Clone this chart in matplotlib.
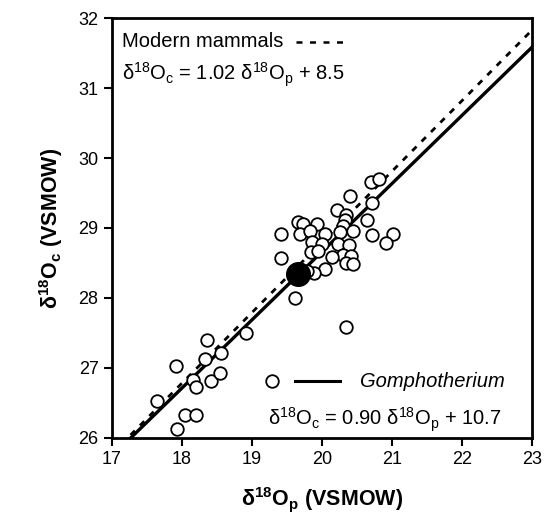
import matplotlib
matplotlib.use("Agg")
import matplotlib.pyplot as plt
from matplotlib.lines import Line2D

plt.rcParams['font.family'] = ['Liberation Sans', 'DejaVu Sans']
plt.rcParams['mathtext.fontset'] = 'custom'
plt.rcParams['mathtext.rm'] = 'Liberation Sans'
plt.rcParams['mathtext.it'] = 'Liberation Sans:italic'
plt.rcParams['mathtext.bf'] = 'Liberation Sans:bold'
plt.rcParams['mathtext.default'] = 'regular'

# Gomphotherium samples (delta18O phosphate, delta18O carbonate)
d18o_p = [17.65, 17.92, 17.93, 18.05, 18.20, 18.16, 18.20, 18.33, 18.36, 18.41,
          18.54, 18.56, 18.91,
          19.42, 19.42, 19.61, 20.34,
          20.70, 20.81, 20.40, 20.72, 20.21, 20.35, 20.33, 20.30, 20.64,
          19.66, 19.73, 19.93, 19.69, 19.83, 20.04, 20.26, 20.44, 20.71, 21.01, 20.91,
          19.86, 20.00, 20.23, 20.38,
          19.85, 19.95, 20.30, 20.42, 20.14,
          20.35, 20.45, 20.04, 19.88, 19.78]
d18o_c = [26.52, 27.02, 26.13, 26.32, 26.32, 26.83, 26.72, 27.12, 27.40, 26.81,
          26.92, 27.21, 27.50,
          28.92, 28.57, 28.00, 27.59,
          29.66, 29.70, 29.46, 29.36, 29.25, 29.19, 29.12, 29.03, 29.11,
          29.08, 29.05, 29.05, 28.92, 28.96, 28.92, 28.94, 28.96, 28.90, 28.92, 28.78,
          28.80, 28.77, 28.77, 28.75,
          28.65, 28.67, 28.61, 28.60, 28.58,
          28.50, 28.48, 28.41, 28.36, 28.39]
mean_p = [19.66]
mean_c = [28.34]

# regression lines as drawn (slope, intercept)
modern_line = (1.01, 8.6)
gompho_line = (0.975, 9.16)

x_ticks = [17, 18, 19, 20, 21, 22, 23]
y_ticks = [26, 27, 28, 29, 30, 31, 32]

fig = plt.figure(figsize=(5.48, 5.32), dpi=100)
ax = fig.add_axes([0.204, 0.177, 0.767, 0.789])
ax.set_xlim(17, 23)
ax.set_ylim(26, 32)

xs = [17.0, 23.0]
ax.plot(xs, [modern_line[0]*x + modern_line[1] for x in xs], color='black',
        lw=2.0, ls=(0, (2.2, 2.6)), zorder=2)
ax.plot(xs, [gompho_line[0]*x + gompho_line[1] for x in xs], color='black',
        lw=2.4, zorder=2)

ax.scatter(d18o_p, d18o_c, s=82, facecolors='white', edgecolors='black',
           linewidths=1.3, zorder=3)
ax.scatter(mean_p, mean_c, s=290, facecolors='black', edgecolors='black',
           zorder=4)

ax.set_xticks(x_ticks)
ax.set_yticks(y_ticks)
ax.tick_params(direction='out', length=6, width=1.5, labelsize=13)
for sp in ax.spines.values():
    sp.set_linewidth(2.0)

ax.set_xlabel(r'$\delta^{\mathbf{18}}\mathbf{O}_{\mathbf{p}}$ (VSMOW)',
              fontsize=15.5, fontweight='bold', labelpad=12)
ax.set_ylabel(r'$\delta^{\mathbf{18}}\mathbf{O}_{\mathbf{c}}$ (VSMOW)',
              fontsize=15.5, fontweight='bold', labelpad=10)

fs = 14.5
# Top-left legend
ax.text(17.14, 31.66, 'Modern mammals', fontsize=fs, va='center', ha='left')
ax.add_line(Line2D([19.63, 20.35], [31.66, 31.66], color='black', lw=1.8,
                   ls=(0, (2.4, 3.0))))
ax.text(17.14, 31.19, r'$\delta^{18}O_{c}$ = 1.02 $\delta^{18}O_{p}$ + 8.5',
        fontsize=fs, va='center', ha='left')

# Bottom-right legend
ax.scatter([19.29], [26.81], s=82, facecolors='white', edgecolors='black',
           linewidths=1.3, zorder=3)
ax.add_line(Line2D([19.61, 20.26], [26.81, 26.81], color='black', lw=2.2))
ax.text(20.54, 26.81, 'Gomphotherium', fontsize=fs, style='italic',
        va='center', ha='left')
ax.text(19.23, 26.26, r'$\delta^{18}O_{c}$ = 0.90 $\delta^{18}O_{p}$ + 10.7',
        fontsize=fs, va='center', ha='left')

fig.savefig('out.png', dpi=100)
